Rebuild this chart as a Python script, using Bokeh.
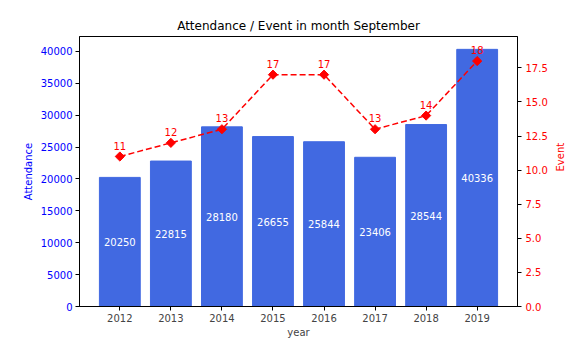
import math
from bokeh.plotting import figure
from bokeh.models import Range1d, LinearAxis, FixedTicker, ColumnDataSource, PrintfTickFormatter
from bokeh.core.properties import value
from bokeh.embed import file_html
from bokeh.resources import INLINE

years = ["2012", "2013", "2014", "2015", "2016", "2017", "2018", "2019"]
attendance = [20250, 22815, 28180, 26655, 25844, 23406, 28544, 40336]
events = [11, 12, 13, 17, 17, 13, 14, 18]
left_ticks = [0, 5000, 10000, 15000, 20000, 25000, 30000, 35000, 40000]
right_ticks = [0, 2.5, 5, 7.5, 10, 12.5, 15, 17.5]

FONT = "DejaVu Sans"
xs = list(range(len(years)))

src = ColumnDataSource(dict(
    x=xs,
    att=attendance,
    half=[a / 2 for a in attendance],
    att_lbl=[str(a) for a in attendance],
    ev=events,
    ev_lbl=[str(e) for e in events],
))

p = figure(width=574, height=352, output_backend="svg", toolbar_location=None,
           x_range=Range1d(-0.79, len(years) - 1 + 0.79),
           y_range=Range1d(0, max(attendance) * 1.05),
           title="Attendance / Event in month September",
           min_border_left=79, min_border_right=56, min_border_top=36, min_border_bottom=46)
p.extra_y_ranges = {"ev": Range1d(0, max(events) * 1.1)}

p.title.align = "center"
p.title.text_font = FONT
p.title.text_font_size = "12px"
p.title.text_font_style = "normal"
p.title.text_color = "black"
p.title.standoff = 8

p.xgrid.visible = False
p.ygrid.visible = False
p.outline_line_color = "black"
p.outline_line_width = 1

p.vbar(x="x", top="att", width=0.8, source=src, color="#4169E1")
p.text(x="x", y="half", text="att_lbl", source=src, text_color="white",
       text_font=value(FONT), text_font_size="10px", text_align="center", text_baseline="middle")

p.line(x="x", y="ev", source=src, y_range_name="ev", color="red", line_width=1.5, line_dash="6 3")
p.scatter(x="x", y="ev", source=src, y_range_name="ev", marker="square", angle=math.pi / 4,
          size=6.5, color="red")
p.text(x="x", y="ev", text="ev_lbl", source=src, y_range_name="ev", text_color="red",
       text_font=value(FONT), text_font_size="10px", text_align="center", text_baseline="bottom",
       y_offset=-7)

# x axis
xa = p.xaxis[0]
xa.ticker = FixedTicker(ticks=xs)
xa.major_label_overrides = {i: y for i, y in enumerate(years)}
xa.axis_label = "year"

# left axis
ya = p.yaxis[0]
ya.ticker = FixedTicker(ticks=left_ticks)
ya.axis_label = "Attendance"
ya.major_label_text_color = "blue"
ya.axis_label_text_color = "blue"

# right axis
ra = LinearAxis(y_range_name="ev", ticker=FixedTicker(ticks=right_ticks),
                formatter=PrintfTickFormatter(format="%.1f"), axis_label="Event")
ra.major_label_text_color = "red"
ra.axis_label_text_color = "red"
ra.axis_label_orientation = math.pi / 2
p.add_layout(ra, "right")

for ax in [xa, ya, ra]:
    ax.major_label_text_font = FONT
    ax.major_label_text_font_size = "10px"
    ax.axis_label_text_font = FONT
    ax.axis_label_text_font_size = "10px"
    ax.axis_label_text_font_style = "normal"
    ax.minor_tick_line_color = None
    ax.major_tick_in = 0
    ax.major_tick_out = 4
    ax.axis_line_color = "black"
    ax.major_tick_line_color = "black"
    ax.axis_label_standoff = 4
    ax.major_label_standoff = 3
xa.axis_label_standoff = 2
ra.major_label_standoff = 4
ra.axis_label_standoff = 10

open("out.html", "w").write(file_html(p, INLINE))
